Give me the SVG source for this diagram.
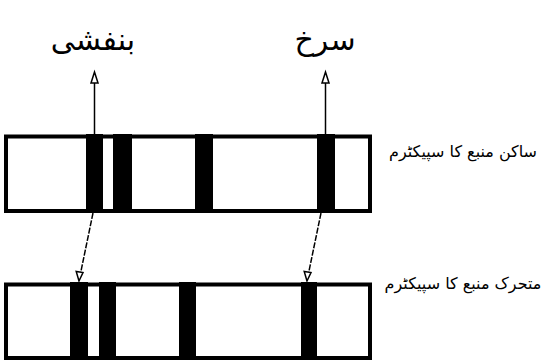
<svg xmlns="http://www.w3.org/2000/svg" width="549" height="360" viewBox="0 0 549 360">
  <style>
    .frame { fill: none; stroke: #000; stroke-width: 4; }
    .band { fill: #000; }
    .lead { stroke: #000; stroke-width: 1.5; fill: none; }
    .shift { stroke: #000; stroke-width: 1.5; fill: none; stroke-dasharray: 6 1.5; }
    .head { fill: #fff; stroke: #000; stroke-width: 1.5; stroke-linejoin: miter; }
    .urdu { font-family: "DejaVu Sans", "Noto Sans", sans-serif; fill: #000; text-anchor: middle; }
  </style>

  <rect width="549" height="360" fill="#fff"/>

  <!-- colour labels -->
  <g id="label-violet">
    <text class="urdu" x="93" y="50" font-size="30">بنفشی</text>
  </g>
  <g id="label-red">
    <text class="urdu" x="325" y="50" font-size="30">سرخ</text>
  </g>

  <!-- spectrum of the stationary source -->
  <g id="spectrum-stationary">
    <rect class="frame" x="6" y="136.5" width="364" height="74.5"/>
    <rect class="band" x="86" y="134" width="17" height="79"/>
    <rect class="band" x="113" y="134" width="19" height="79"/>
    <rect class="band" x="195" y="134" width="18" height="79"/>
    <rect class="band" x="317" y="134" width="18" height="79"/>
  </g>
  <g id="caption-stationary">
    <text class="urdu" x="463" y="157" font-size="16">ساکن منبع کا سپیکٹرم</text>
  </g>

  <!-- spectrum of the moving source -->
  <g id="spectrum-moving">
    <rect class="frame" x="6" y="284.5" width="364" height="73.5"/>
    <rect class="band" x="70" y="282" width="18" height="78"/>
    <rect class="band" x="99" y="282" width="17" height="78"/>
    <rect class="band" x="179" y="282" width="17" height="78"/>
    <rect class="band" x="301" y="282" width="16" height="78"/>
  </g>
  <g id="caption-moving">
    <text class="urdu" x="463" y="289" font-size="16">متحرک منبع کا سپیکٹرم</text>
  </g>

  <!-- connectors -->
  <g id="connectors">
    <line class="lead" x1="94.5" y1="134" x2="94.5" y2="83"/>
    <polygon class="head" points="94.5,72 98,83 91,83"/>
    <line class="lead" x1="325.5" y1="134" x2="325.5" y2="83"/>
    <polygon class="head" points="325.5,72 329,83 322,83"/>

    <line class="shift" x1="93" y1="213" x2="80.8" y2="272"/>
    <polygon class="head" points="79,281 76.2,271.5 83,272.5"/>
    <line class="shift" x1="321" y1="213" x2="308.8" y2="272"/>
    <polygon class="head" points="307,281 304.2,271.5 311,272.5"/>
  </g>
</svg>
